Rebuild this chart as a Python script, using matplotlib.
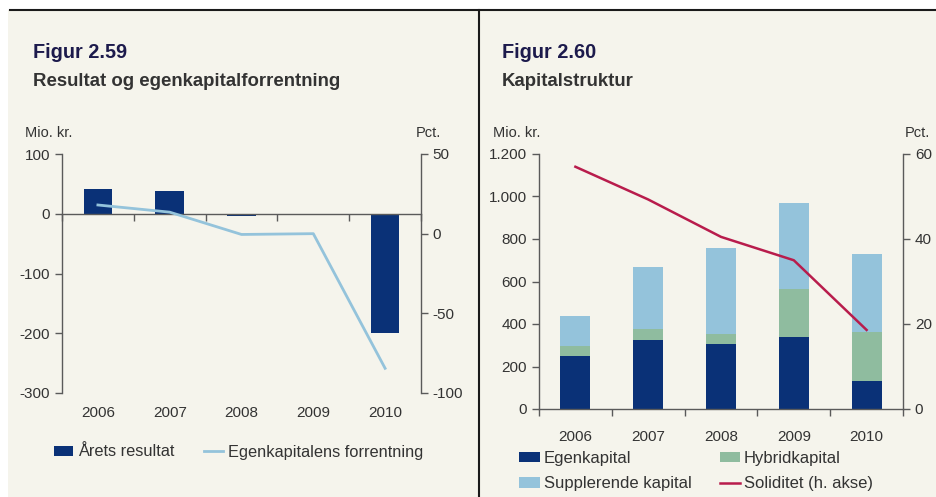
import numpy as np
import matplotlib
matplotlib.use('Agg')
import matplotlib.pyplot as plt
from matplotlib.patches import Rectangle, Patch
from matplotlib.lines import Line2D
from matplotlib.ticker import FuncFormatter
import matplotlib.transforms as mtransforms

plt.rcParams['font.family'] = ['Liberation Sans', 'DejaVu Sans']
plt.rcParams['axes.unicode_minus'] = False

#-------------------------------------------------------------------------
years = ['2006', '2007', '2008', '2009', '2010']

# Figur 2.59
arets_resultat = [42, 38, -3, 0, -200]                # mio. kr.
egenkap_forrentning = [18.0, 13.5, -0.5, 0.0, -84.5]  # pct.

# Figur 2.60
egenkapital = [250, 325, 305, 340, 132]
hybridkapital = [48, 51, 47, 225, 230]
supplerende = [140, 292, 405, 404, 367]
soliditet = [57.0, 49.3, 40.5, 35.0, 18.6]

#-------------------------------------------------------------------------
W, H = 936, 497
bg = '#f5f4ec'
navy = '#0a3177'
lightblue = '#94c3db'
green = '#8fbc9f'
crimson = '#b81c4c'
axcol = '#5a5a5a'
txtcol = '#333333'
titlecol = '#1c1a4c'

fig = plt.figure(figsize=(W/100, H/100), dpi=100, facecolor='white')

def fx(px):
  return px/W

def fy(py):
  return 1.0 - py/H

# panel backgrounds and frame lines
fig.patches.append(Rectangle((fx(8), 0), fx(471), fy(10), transform=fig.transFigure,
                             facecolor=bg, edgecolor='none', zorder=-10))
fig.patches.append(Rectangle((fx(480), 0), fx(456), fy(10), transform=fig.transFigure,
                             facecolor=bg, edgecolor='none', zorder=-10))
fig.add_artist(Line2D([fx(10), 1.0], [fy(10), fy(10)], transform=fig.transFigure,
                      color='#1a1a1a', lw=1.5))
fig.add_artist(Line2D([fx(479.5), fx(479.5)], [fy(10), 0], transform=fig.transFigure,
                      color='#1a1a1a', lw=1.5))

def thousands(v, pos):
  return '{:,.0f}'.format(v).replace(',', '.')

def style_axes(ax):
  ax.set_facecolor('none')
  ax.spines['top'].set_visible(False)
  for s in ['left', 'right', 'bottom']:
    ax.spines[s].set_color(axcol)
    ax.spines[s].set_linewidth(1.0)
  ax.tick_params(axis='both', colors=axcol, labelcolor=txtcol, labelsize=11,
                 length=5, width=1.0, direction='out')

#-------------------------------------------------------------------------
# Figur 2.59: Resultat og egenkapitalforrentning
fig.text(fx(33), fy(52), 'Figur 2.59', fontsize=14.3, fontweight='bold',
         color=titlecol, va='center')
fig.text(fx(33), fy(82), 'Resultat og egenkapitalforrentning', fontsize=13.4,
         fontweight='bold', color=txtcol, va='center')
fig.text(fx(25), fy(133), 'Mio. kr.', fontsize=10.5, color=txtcol, va='center')
fig.text(fx(441), fy(133), 'Pct.', fontsize=10.5, color=txtcol, va='center', ha='right')

ax1 = fig.add_axes([fx(62), fy(393), fx(421-62), (393-154)/H])
style_axes(ax1)
x = np.arange(len(years))
ax1.bar(x, arets_resultat, width=0.4, color=navy, zorder=2)
ax1.set_xlim(-0.5, 4.5)
ax1.set_ylim(-300, 100)
ax1.set_yticks([-300, -200, -100, 0, 100])
ax1.spines['bottom'].set_position(('data', 0))
ax1.set_xticks(np.arange(-0.5, 5.0, 1.0))
ax1.set_xticklabels([])
ax1.spines['right'].set_visible(False)
trans1 = mtransforms.blended_transform_factory(ax1.transData, ax1.transAxes)
for i, yr in enumerate(years):
  ax1.text(i, -20/239, yr, transform=trans1, ha='center', va='center',
           fontsize=11, color=txtcol)

ax1r = ax1.twinx()
style_axes(ax1r)
ax1r.spines['left'].set_visible(False)
ax1r.spines['bottom'].set_visible(False)
ax1r.plot(x, egenkap_forrentning, color=lightblue, lw=2.0, zorder=3)
ax1r.set_ylim(-100, 50)
ax1r.set_yticks([-100, -50, 0, 50])

handles1 = [Patch(facecolor=navy, edgecolor='none'),
            Line2D([], [], color=lightblue, lw=2.0)]
fig.legend(handles1, ['Årets resultat', 'Egenkapitalens forrentning'],
           loc='center left', bbox_to_anchor=(fx(54), fy(452)),
           bbox_transform=fig.transFigure, ncol=2, frameon=False, fontsize=11.8,
           handlelength=1.15, handleheight=0.6, handletextpad=0.3,
           columnspacing=1.85, borderpad=0, borderaxespad=0, labelcolor=txtcol)

#-------------------------------------------------------------------------
# Figur 2.60: Kapitalstruktur
fig.text(fx(502), fy(52), 'Figur 2.60', fontsize=14.3, fontweight='bold',
         color=titlecol, va='center')
fig.text(fx(502), fy(82), 'Kapitalstruktur', fontsize=13.4, fontweight='bold',
         color=txtcol, va='center')
fig.text(fx(493), fy(133), 'Mio. kr.', fontsize=10.5, color=txtcol, va='center')
fig.text(fx(930), fy(133), 'Pct.', fontsize=10.5, color=txtcol, va='center', ha='right')

ax2 = fig.add_axes([fx(539), fy(409), fx(903-539), (409-154)/H])
style_axes(ax2)
ek = np.array(egenkapital)
hk = np.array(hybridkapital)
sk = np.array(supplerende)
ax2.bar(x, ek, width=0.41, color=navy, zorder=2)
ax2.bar(x, hk, width=0.41, bottom=ek, color=green, zorder=2)
ax2.bar(x, sk, width=0.41, bottom=ek+hk, color=lightblue, zorder=2)
ax2.set_xlim(-0.5, 4.5)
ax2.set_ylim(0, 1200)
ax2.set_yticks(np.arange(0, 1201, 200))
ax2.yaxis.set_major_formatter(FuncFormatter(thousands))
ax2.set_xticks(np.arange(-0.5, 5.0, 1.0))
ax2.set_xticklabels([])
ax2.set_xticks(x, minor=True)
ax2.set_xticklabels(years, minor=True)
ax2.tick_params(axis='x', which='minor', length=0, pad=15, labelsize=11,
                labelcolor=txtcol)
ax2.spines['right'].set_visible(False)

ax2r = ax2.twinx()
style_axes(ax2r)
ax2r.spines['left'].set_visible(False)
ax2r.spines['bottom'].set_visible(False)
ax2r.plot(x, soliditet, color=crimson, lw=1.8, zorder=3)
ax2r.set_ylim(0, 60)
ax2r.set_yticks([0, 20, 40, 60])

# ncol=2 fills column by column, so order the entries accordingly
handles2 = [Patch(facecolor=navy, edgecolor='none'),
            Patch(facecolor=lightblue, edgecolor='none'),
            Patch(facecolor=green, edgecolor='none'),
            Line2D([], [], color=crimson, lw=1.8)]
fig.legend(handles2, ['Egenkapital', 'Supplerende kapital', 'Hybridkapital',
                      'Soliditet (h. akse)'],
           loc='center left', bbox_to_anchor=(fx(519), fy(471)),
           bbox_transform=fig.transFigure, ncol=2, frameon=False, fontsize=12,
           handlelength=1.25, handleheight=0.6, handletextpad=0.22,
           columnspacing=1.7, labelspacing=0.62, borderpad=0, borderaxespad=0,
           labelcolor=txtcol)

fig.savefig('out.png', dpi=100, facecolor=fig.get_facecolor())
